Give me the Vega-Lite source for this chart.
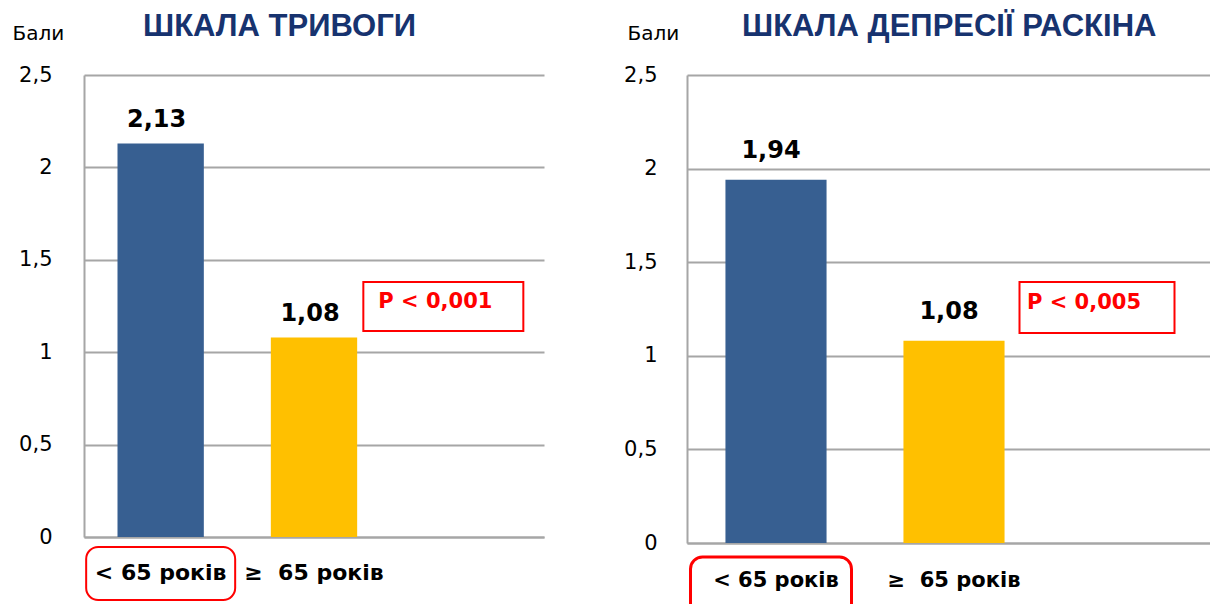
{
  "$schema": "https://vega.github.io/schema/vega-lite/v6.json",
  "padding": {"left": 12, "top": 11, "right": 0, "bottom": 0},
  "background": "white",
  "config": {
    "view": {"stroke": null},
    "locale": {"number": {"decimal": ",", "thousands": " ", "grouping": [3], "currency": ["", ""]}}
  },
  "spacing": 79,
  "hconcat": [
    {
      "width": 460,
      "height": 462,
      "title": {"text": "ШКАЛА ТРИВОГИ", "anchor": "start", "frame": "group", "dx": 59, "offset": -44, "baseline": "alphabetic", "font": "Liberation Sans", "fontSize": 31, "fontWeight": "bold", "color": "#17336f"},
      "data": {"values": [
        {"group": "< 65 років", "value": 2.13, "note": "P < 0,001"},
        {"group": "≥\u00a0 65 років", "value": 1.08, "note": "P < 0,001"}
      ]},
      "encoding": {
        "x": {"field": "group", "type": "nominal", "sort": null,
          "scale": {"domain": ["< 65 років", "≥\u00a0 65 років", " "], "paddingInner": 0.437, "paddingOuter": 0.2185},
          "axis": {"title": null, "domainColor": "#a6a6a6", "domainWidth": 2, "ticks": false, "labelAngle": 0, "labelFont": "DejaVu Sans", "labelFontSize": 22, "labelFontWeight": "bold", "labelColor": "#000000", "labelPadding": 35, "labelBaseline": "middle"}}
      },
      "layer": [
        {
          "mark": {"type": "bar"},
          "encoding": {
            "y": {"field": "value", "type": "quantitative", "scale": {"domain": [0, 2.5], "nice": false},
              "axis": {"values": [0, 0.5, 1, 1.5, 2, 2.5], "format": ".1~f", "grid": true, "gridColor": "#a6a6a6", "gridWidth": 2, "domainColor": "#a6a6a6", "domainWidth": 2, "ticks": false, "labelFont": "DejaVu Sans", "labelFontSize": 21, "labelColor": "#000000", "labelPadding": 32, "title": "Бали", "titleAngle": 0, "titleAlign": "left", "titleBaseline": "middle", "titleX": -72, "titleY": -42, "titleFont": "DejaVu Sans", "titleFontSize": 20, "titleFontWeight": "normal", "titleColor": "#000000"}},
            "color": {"field": "group", "type": "nominal", "scale": {"domain": ["< 65 років", "≥\u00a0 65 років"], "range": ["#375f91", "#ffc000"]}, "legend": null}
          }
        },
        {
          "mark": {"type": "text", "dy": -16, "dx": -4, "baseline": "alphabetic", "font": "DejaVu Sans", "fontSize": 24, "fontWeight": "bold", "color": "#000000"},
          "encoding": {
            "y": {"field": "value", "type": "quantitative"},
            "text": {"field": "value", "type": "quantitative", "format": ".2f"}
          }
        },
        {
          "transform": [{"filter": "datum.group === '< 65 років'"}],
          "mark": {"type": "bar", "width": 149, "fill": "transparent", "stroke": "#ff0000", "strokeWidth": 2, "cornerRadius": 12, "yOffset": 10, "y2Offset": 63, "clip": false},
          "encoding": {"y": {"datum": 0}, "y2": {"datum": 0}}
        },
        {
          "transform": [{"filter": "datum.group === '< 65 років'"}],
          "mark": {"type": "bar", "width": 160, "xOffset": -24, "fill": "transparent", "stroke": "#ff0000", "strokeWidth": 2},
          "encoding": {"x": {"datum": " "}, "y": {"datum": 1.38}, "y2": {"datum": 1.115}}
        },
        {
          "transform": [{"filter": "datum.group === '< 65 років'"}],
          "mark": {"type": "text", "align": "left", "baseline": "middle", "dx": -89, "font": "DejaVu Sans", "fontSize": 21, "fontWeight": "bold", "color": "#ff0000"},
          "encoding": {"x": {"datum": " "}, "y": {"datum": 1.27}, "text": {"field": "note"}}
        }
      ]
    },
    {
      "width": 534,
      "height": 468,
      "title": {"text": "ШКАЛА ДЕПРЕСІЇ РАСКІНА", "anchor": "start", "frame": "group", "dx": 55, "offset": -44, "baseline": "alphabetic", "font": "Liberation Sans", "fontSize": 31, "fontWeight": "bold", "color": "#17336f"},
      "data": {"values": [
        {"group": "< 65 років", "value": 1.94, "note": "P < 0,005"},
        {"group": "≥\u00a0 65 років", "value": 1.08, "note": "P < 0,005"}
      ]},
      "encoding": {
        "x": {"field": "group", "type": "nominal", "sort": null,
          "scale": {"domain": ["< 65 років", "≥\u00a0 65 років", " "], "paddingInner": 0.432, "paddingOuter": 0.216},
          "axis": {"title": null, "domainColor": "#a6a6a6", "domainWidth": 2, "ticks": false, "labelAngle": 0, "labelFont": "DejaVu Sans", "labelFontSize": 21, "labelFontWeight": "bold", "labelColor": "#000000", "labelPadding": 37, "labelBaseline": "middle"}}
      },
      "layer": [
        {
          "mark": {"type": "bar"},
          "encoding": {
            "y": {"field": "value", "type": "quantitative", "scale": {"domain": [0, 2.5], "nice": false},
              "axis": {"values": [0, 0.5, 1, 1.5, 2, 2.5], "format": ".1~f", "grid": true, "gridColor": "#a6a6a6", "gridWidth": 2, "domainColor": "#a6a6a6", "domainWidth": 2, "ticks": false, "labelFont": "DejaVu Sans", "labelFontSize": 21, "labelColor": "#000000", "labelPadding": 30, "title": "Бали", "titleAngle": 0, "titleAlign": "left", "titleBaseline": "middle", "titleX": -60, "titleY": -42, "titleFont": "DejaVu Sans", "titleFontSize": 20, "titleFontWeight": "normal", "titleColor": "#000000"}},
            "color": {"field": "group", "type": "nominal", "scale": {"domain": ["< 65 років", "≥\u00a0 65 років"], "range": ["#375f91", "#ffc000"]}, "legend": null}
          }
        },
        {
          "mark": {"type": "text", "dy": -22, "dx": -5, "baseline": "alphabetic", "font": "DejaVu Sans", "fontSize": 24, "fontWeight": "bold", "color": "#000000"},
          "encoding": {
            "y": {"field": "value", "type": "quantitative"},
            "text": {"field": "value", "type": "quantitative", "format": ".2f"}
          }
        },
        {
          "transform": [{"filter": "datum.group === '< 65 років'"}],
          "mark": {"type": "bar", "width": 161, "xOffset": -5, "fill": "transparent", "stroke": "#ff0000", "strokeWidth": 3, "cornerRadius": 12, "yOffset": 14, "y2Offset": 80, "clip": false},
          "encoding": {"y": {"datum": 0}, "y2": {"datum": 0}}
        },
        {
          "transform": [{"filter": "datum.group === '< 65 років'"}],
          "mark": {"type": "bar", "width": 155, "xOffset": -35, "fill": "transparent", "stroke": "#ff0000", "strokeWidth": 2},
          "encoding": {"x": {"datum": " "}, "y": {"datum": 1.394}, "y2": {"datum": 1.122}}
        },
        {
          "transform": [{"filter": "datum.group === '< 65 років'"}],
          "mark": {"type": "text", "align": "left", "baseline": "middle", "dx": -105, "font": "DejaVu Sans", "fontSize": 21, "fontWeight": "bold", "color": "#ff0000"},
          "encoding": {"x": {"datum": " "}, "y": {"datum": 1.282}, "text": {"field": "note"}}
        }
      ]
    }
  ]
}
